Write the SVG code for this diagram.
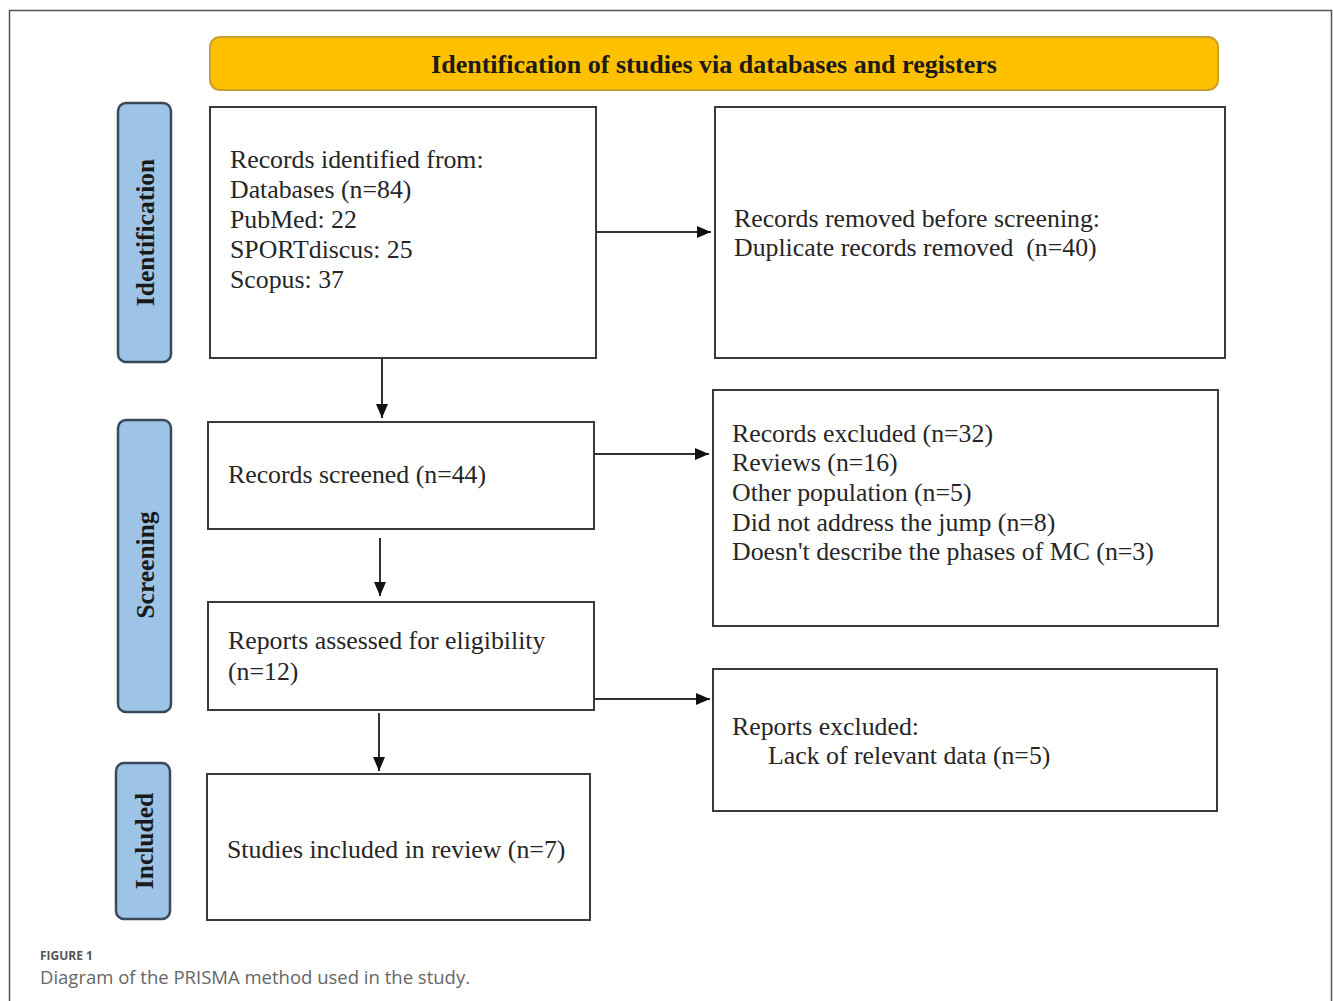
<svg xmlns="http://www.w3.org/2000/svg" width="1333" height="1001" viewBox="0 0 1333 1001">
<defs>
<style>
.box{fill:#fff;stroke:#3a3a3a;stroke-width:2}
.side{fill:#9dc3e6;stroke:#3b4a5a;stroke-width:2.5}
.t{font-family:"Liberation Serif","Times New Roman",serif;font-size:25.8px;fill:#262626}
.sl{font-family:"Liberation Serif","Times New Roman",serif;font-size:25.5px;font-weight:bold;fill:#1a1a1a}
.ban{font-family:"Liberation Serif","Times New Roman",serif;font-size:26px;font-weight:bold;fill:#1a1a1a}
.conn{stroke:#333;stroke-width:2;fill:none}
.cap1{font-family:"Open Sans","Noto Sans",sans-serif;font-size:12px;font-weight:bold;fill:#555}
.cap2{font-family:"Open Sans","Noto Sans",sans-serif;font-size:18.5px;fill:#666}
</style>
<marker id="arr" viewBox="0 0 14 12" refX="14" refY="6" markerWidth="14" markerHeight="12" markerUnits="userSpaceOnUse" orient="auto">
<path d="M0,0 L14,6 L0,12 z" fill="#111"/>
</marker>
</defs>
<rect x="0" y="0" width="1333" height="1001" fill="#fff"/>
<path d="M9.5,1001 V10.5 H1331.5 V1001" fill="none" stroke="#555" stroke-width="1.5"/>

<g id="banner">
<rect x="210" y="37" width="1008" height="53" rx="10" fill="#ffc000" stroke="#c9a02a" stroke-width="2"/>
<text x="714" y="73" text-anchor="middle" class="ban">Identification of studies via databases and registers</text>
</g>

<g id="side-identification">
<rect x="118" y="103" width="53" height="259" rx="8" class="side"/>
<text transform="translate(154,232.5) rotate(-90)" text-anchor="middle" class="sl">Identification</text>
</g>
<g id="side-screening">
<rect x="118" y="420" width="53" height="292" rx="8" class="side"/>
<text transform="translate(154,565) rotate(-90)" text-anchor="middle" class="sl">Screening</text>
</g>
<g id="side-included">
<rect x="116" y="763" width="54" height="156" rx="8" class="side"/>
<text transform="translate(153,841) rotate(-90)" text-anchor="middle" class="sl">Included</text>
</g>

<g id="records-identified">
<rect x="210" y="107" width="386" height="251" class="box"/>
<text class="t" x="230" y="168">Records identified from:</text>
<text class="t" x="230" y="198">Databases (n=84)</text>
<text class="t" x="230" y="228">PubMed: 22</text>
<text class="t" x="230" y="258">SPORTdiscus: 25</text>
<text class="t" x="230" y="288">Scopus: 37</text>
</g>
<g id="records-removed">
<rect x="715" y="107" width="510" height="251" class="box"/>
<text class="t" x="734" y="227">Records removed before screening:</text>
<text class="t" x="734" y="256" xml:space="preserve">Duplicate records removed  (n=40)</text>
</g>
<g id="records-screened">
<rect x="208" y="422" width="386" height="107" class="box"/>
<text class="t" x="228" y="483">Records screened (n=44)</text>
</g>
<g id="records-excluded">
<rect x="713" y="390" width="505" height="236" class="box"/>
<text class="t" x="732" y="442">Records excluded (n=32)</text>
<text class="t" x="732" y="471">Reviews (n=16)</text>
<text class="t" x="732" y="501">Other population (n=5)</text>
<text class="t" x="732" y="531">Did not address the jump (n=8)</text>
<text class="t" x="732" y="560">Doesn't describe the phases of MC (n=3)</text>
</g>
<g id="reports-assessed">
<rect x="208" y="602" width="386" height="108" class="box"/>
<text class="t" x="228" y="649">Reports assessed for eligibility</text>
<text class="t" x="228" y="680">(n=12)</text>
</g>
<g id="reports-excluded">
<rect x="713" y="669" width="504" height="142" class="box"/>
<text class="t" x="732" y="735">Reports excluded:</text>
<text class="t" x="768" y="764">Lack of relevant data (n=5)</text>
</g>
<g id="studies-included">
<rect x="207" y="774" width="383" height="146" class="box"/>
<text class="t" x="227" y="858">Studies included in review (n=7)</text>
</g>

<g id="connectors">
<line class="conn" x1="596" y1="232" x2="711" y2="232" marker-end="url(#arr)"/>
<line class="conn" x1="382" y1="358" x2="382" y2="418" marker-end="url(#arr)"/>
<line class="conn" x1="594" y1="454" x2="709" y2="454" marker-end="url(#arr)"/>
<line class="conn" x1="380" y1="538" x2="380" y2="596" marker-end="url(#arr)"/>
<line class="conn" x1="594" y1="699" x2="710" y2="699" marker-end="url(#arr)"/>
<line class="conn" x1="379" y1="713" x2="379" y2="771" marker-end="url(#arr)"/>
</g>

<g id="caption">
<text class="cap1" x="40" y="960">FIGURE 1</text>
<text class="cap2" x="40" y="984">Diagram of the PRISMA method used in the study.</text>
</g>
</svg>
